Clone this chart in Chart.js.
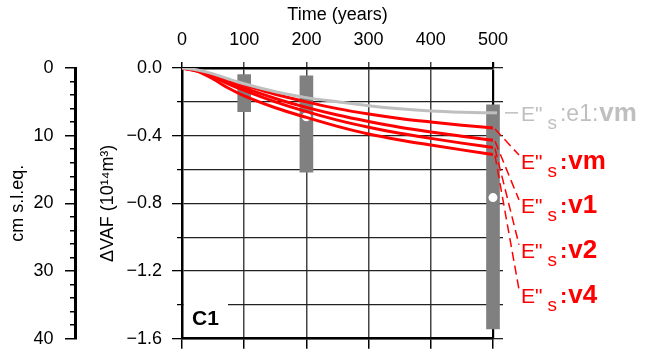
<!DOCTYPE html>
<html>
<head>
<meta charset="utf-8">
<script src="https://cdn.jsdelivr.net/npm/chart.js@4.4.1/dist/chart.umd.min.js"></script>
<style>
  html, body { margin: 0; padding: 0; background: #fff; }
  #wrap { width: 648px; height: 361px; }
</style>
</head>
<body>
<div id="wrap"><canvas id="c1Chart"></canvas></div>
<script>
// time axis (years) and the modelled change in VAF (10^14 m^3)
const years = [0, 25, 50, 75, 100, 150, 200, 250, 300, 350, 400, 450, 500];
const e1vm = [0, -0.012, -0.035, -0.065, -0.093, -0.14, -0.175, -0.2, -0.223, -0.241, -0.254, -0.261, -0.265];
const vm   = [0, -0.014, -0.04, -0.072, -0.1, -0.155, -0.2, -0.24, -0.272, -0.298, -0.319, -0.338, -0.355];
const v1   = [0, -0.016, -0.046, -0.085, -0.118, -0.18, -0.233, -0.278, -0.316, -0.35, -0.378, -0.403, -0.427];
const v2   = [0, -0.018, -0.052, -0.095, -0.132, -0.2, -0.258, -0.308, -0.35, -0.386, -0.416, -0.444, -0.47];
const v4   = [0, -0.02, -0.065, -0.12, -0.165, -0.235, -0.292, -0.345, -0.39, -0.425, -0.455, -0.484, -0.511];

// grey ranges and their mid markers
const boxYears = [100, 200, 500];
const boxLow   = [-0.258, -0.615, -1.542];
const boxHigh  = [-0.039, -0.046, -0.217];
const dotYears  = [200, 500];
const dotValues = [-0.288, -0.766];

const seriesNames = ['e1:vm', 'vm', 'v1', 'v2', 'v4'];

const fam = '"Liberation Sans", Arial, Helvetica, sans-serif';
const grey = '#bfbfbf';
const red = '#ff0000';

// where the end labels sit (in y units), one row per series
const labelRows = [-0.27, -0.55, -0.815, -1.08, -1.345];

function isMajor(v) {
    return Math.abs(v / 0.4 - Math.round(v / 0.4)) < 1e-6;
}
function fmt(v) {
    if (Math.abs(v) < 1e-9) return '0.0';
    return '\u2212' + Math.abs(v).toFixed(1);
}

const series = [
    { name: seriesNames[0], data: e1vm, color: grey },
    { name: seriesNames[1], data: vm, color: red },
    { name: seriesNames[2], data: v1, color: red },
    { name: seriesNames[3], data: v2, color: red },
    { name: seriesNames[4], data: v4, color: red }
];

function drawLabel(ctx, x, base, s) {
    ctx.fillStyle = s.color;
    ctx.font = '21px ' + fam;
    ctx.fillText('E"', x, base);
    x += ctx.measureText('E"').width + 5;
    ctx.font = '19px ' + fam;
    ctx.fillText('s', x, base + 8);
    x += ctx.measureText('s').width + 3;
    let head = ':', tail = s.name;
    if (s.name.indexOf(':') > 0) {
        const parts = s.name.split(':');
        head = ':' + parts[0] + ':';
        tail = parts[1];
        ctx.font = '23px ' + fam;
    } else {
        ctx.font = 'bold 22px ' + fam;
    }
    ctx.fillText(head, x, base);
    x += ctx.measureText(head).width + 1;
    ctx.font = 'bold 26px ' + fam;
    ctx.fillText(tail, x, base);
}

const labelPlugin = {
    id: 'endLabels',
    beforeDatasetsDraw(chart) {
        const { ctx, chartArea: a, scales: { y } } = chart;
        const top = y.getPixelForValue(-1.37);
        ctx.save();
        ctx.fillStyle = '#fff';
        ctx.fillRect(a.left + 2, top, 44, a.bottom - top - 2);
        ctx.restore();
    },
    afterDatasetsDraw(chart) {
        const { ctx, chartArea: a, scales: { x, y } } = chart;
        const xEnd = x.getPixelForValue(500);
        const tx = xEnd + 28;
        ctx.save();
        ctx.fillStyle = '#000';
        ctx.font = 'bold 21px ' + fam;
        ctx.textBaseline = 'alphabetic';
        ctx.fillText('C1', a.left + 10, a.bottom - 14);

        series.forEach((s, i) => {
            const yEnd = y.getPixelForValue(s.data[s.data.length - 1]);
            const yc = y.getPixelForValue(labelRows[i]);
            ctx.strokeStyle = s.color;
            ctx.lineWidth = 1.5;
            ctx.beginPath();
            if (i === 0) {
                ctx.lineWidth = 3;
                ctx.moveTo(xEnd, yEnd);
                ctx.lineTo(xEnd + 4, yEnd);
                ctx.stroke();
                ctx.beginPath();
                ctx.lineWidth = 1.5;
                ctx.moveTo(xEnd + 12, yEnd);
                ctx.lineTo(tx - 3, yEnd);
            } else {
                ctx.setLineDash([9, 5]);
                ctx.moveTo(xEnd + 2, yEnd + 1);
                ctx.lineTo(tx - 2, yc - 6);
            }
            ctx.stroke();
            ctx.setLineDash([]);
            drawLabel(ctx, tx, yc + 7.5, s);
        });
        ctx.restore();
    }
};

Chart.defaults.font.family = fam;
Chart.defaults.color = '#000';

const lineSets = series.map(s => ({
    type: 'line',
    label: s.name,
    data: years.map((yr, i) => ({ x: yr, y: s.data[i] })),
    borderColor: s.color,
    borderWidth: 3,
    pointRadius: 0,
    cubicInterpolationMode: 'monotone',
    fill: false,
    order: 1,
    xAxisID: 'x',
    yAxisID: 'y'
}));

const ctx_c1 = document.getElementById('c1Chart');
const c1Chart = new Chart(ctx_c1, {
    data: {
        datasets: [
            ...lineSets,
            {
                type: 'bar',
                label: 'range',
                data: boxYears.map((yr, i) => ({ x: yr, y: [boxLow[i], boxHigh[i]] })),
                backgroundColor: '#808080',
                borderWidth: 0,
                barThickness: 13,
                clip: false,
                order: 3,
                xAxisID: 'x',
                yAxisID: 'y'
            },
            {
                type: 'line',
                label: 'mid',
                data: dotYears.map((yr, i) => ({ x: yr, y: dotValues[i] })),
                showLine: false,
                pointRadius: 5.5,
                pointBorderWidth: 2,
                pointBorderColor: '#808080',
                pointBackgroundColor: '#fff',
                clip: false,
                order: 2,
                xAxisID: 'x',
                yAxisID: 'y'
            }
        ]
    },
    options: {
        responsive: true,
        maintainAspectRatio: false,
        animation: false,
        events: [],
        layout: { padding: 0 },
        plugins: { legend: { display: false }, tooltip: { enabled: false } },
        scales: {
            x: {
                type: 'linear', position: 'top', min: 0, max: 500, offset: false,
                afterFit: s => { s.height = 68; },
                ticks: { stepSize: 100, padding: 11, font: { size: 18 }, maxRotation: 0, autoSkip: false },
                title: { display: true, text: 'Time (years)', font: { size: 18 }, padding: { top: 4, bottom: 0 } },
                grid: {
                    offset: false,
                    color: c => (c.tick && (c.tick.value === 500 || c.tick.value === 0)) ? '#000' : '#444',
                    lineWidth: c => (c.tick && c.tick.value === 500) ? 2.2 : 1.5,
                    tickLength: 6
                },
                border: { color: '#000', width: 2.5 }
            },
            xb: {
                type: 'linear', position: 'bottom', min: 0, max: 500, offset: false,
                afterFit: s => { s.height = 14; },
                ticks: { stepSize: 100, callback: () => '' },
                grid: { drawOnChartArea: false, offset: false, tickLength: 10, color: '#000', lineWidth: 1.5 },
                border: { color: '#000', width: 2.5 }
            },
            y: {
                type: 'linear', position: 'left', min: -1.6, max: 0, weight: 0,
                afterFit: s => { s.width = 107; },
                ticks: { stepSize: 0.2, autoSkip: false, padding: 10, font: { size: 18 }, callback: v => isMajor(v) ? fmt(v) : '' },
                title: { display: true, text: '\u0394VAF (10\u00b9\u2074m\u00b3)', font: { size: 18 }, padding: { top: 22, bottom: 0 } },
                grid: {
                    color: '#222', lineWidth: 1.3, tickLength: 10, tickColor: '#000',
                    tickBorderDash: c => (c.tick && isMajor(c.tick.value)) ? [] : [0, 5, 20]
                },
                border: { color: '#000', width: 2.5 }
            },
            ycm: {
                type: 'linear', position: 'left', weight: 1, min: 0, max: 40, reverse: true,
                afterFit: s => { s.width = 75; },
                ticks: { stepSize: 2, autoSkip: false, padding: 11.5, font: { size: 18 }, callback: v => v % 10 === 0 ? String(v) : '' },
                title: { display: true, text: 'cm s.l.eq.', font: { size: 18 }, padding: { top: 7, bottom: 0 } },
                grid: {
                    drawOnChartArea: false, tickLength: 10, color: '#000', lineWidth: 1.5,
                    tickBorderDash: c => (c.tick && c.tick.value % 10 === 0) ? [] : [0, 5, 20]
                },
                border: { color: '#000', width: 3 }
            },
            yr: {
                type: 'linear', position: 'right', min: -1.6, max: 0,
                afterFit: s => { s.width = 155; },
                ticks: { stepSize: 0.2, autoSkip: false, callback: () => '' },
                grid: { drawOnChartArea: false, tickLength: 10, color: '#222', lineWidth: 1.3 },
                border: { display: false }
            }
        }
    },
    plugins: [labelPlugin]
});
</script>
</body>
</html>
